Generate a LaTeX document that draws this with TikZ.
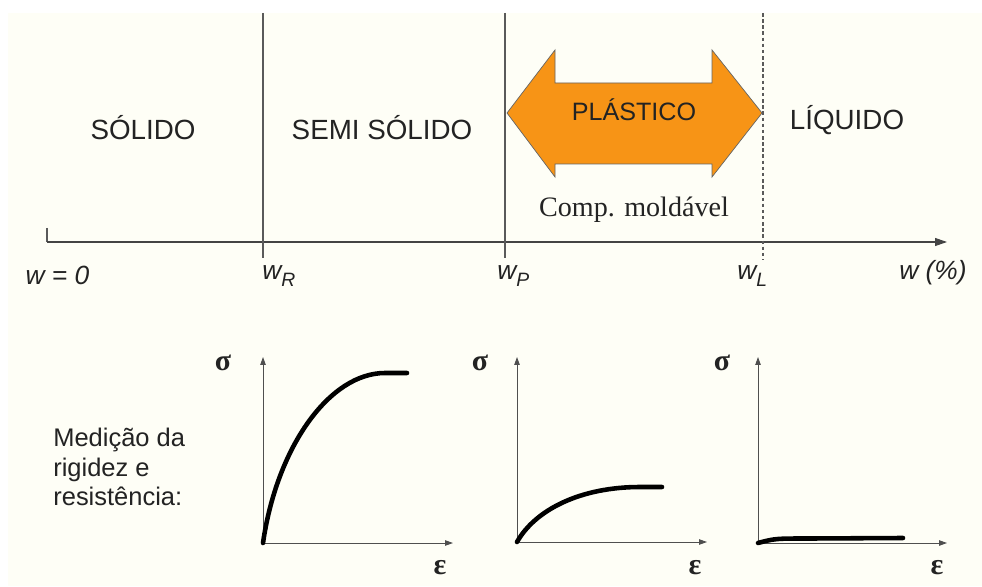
\documentclass[tikz,border=0pt]{standalone}
\usepackage{fontspec}
\setmainfont{Liberation Sans}
\newfontfamily\timesfont{Liberation Serif}
\usetikzlibrary{arrows.meta}
\definecolor{paper}{RGB}{254,254,246}
\definecolor{plastic}{RGB}{247,148,22}
\definecolor{ink}{RGB}{35,35,35}

\begin{document}
\begin{tikzpicture}[
  font=\fontsize{15.8}{19}\selectfont, text=ink,
  region/.style={inner sep=0pt},
  wlbl/.style={font=\fontsize{15}{18}\selectfont\itshape, inner sep=0pt},
  greek/.style={font=\fontsize{17}{20}\selectfont\timesfont\bfseries, inner sep=0pt},
  limit/.style={draw=ink!75, line width=0.6pt},
  axis/.style={draw=ink!85, line width=0.6pt, -{Triangle[length=2.4mm,width=1.6mm]}},
  gaxis/.style={draw=ink!80, line width=0.5pt, {Triangle[length=1.6mm,width=1.1mm]}-{Triangle[length=1.6mm,width=1.1mm]}},
  curve/.style={line width=2.6pt, line cap=round},
  blob/.style={fill=plastic, draw=ink!70, line width=0.4pt, line join=miter}
]
\useasboundingbox (0,0) rectangle (19.64,11.72);
\fill[paper] (0.16,0) rectangle (19.64,11.46);

\coordinate (a0) at (0.94,6.88);
\coordinate (a1) at (18.94,6.88);
\coordinate (tick) at (0.94,7.16);
\draw[limit] (tick) -- (a0);
\draw[axis] (a0) -- (a1);

\coordinate (rTop) at (5.26,11.46);
\coordinate (rBot) at (5.26,6.56);
\coordinate (pTop) at (10.10,11.46);
\coordinate (pBot) at (10.10,6.56);
\coordinate (lTop) at (15.26,11.46);
\coordinate (lBot) at (15.26,6.52);
\draw[limit] (rTop) -- (rBot);
\draw[limit] (pTop) -- (pBot);
\draw[limit, dash pattern=on 2pt off 1.5pt] (lTop) -- (lBot);

\node[wlbl] (w0) at (1.15,6.22) {w = 0};
\node[wlbl, anchor=west] (wR) at (5.24,6.2) {w\raisebox{-0.55ex}{\fontsize{11}{13}\selectfont R}};
\node[wlbl, anchor=west] (wP) at (9.94,6.2) {w\raisebox{-0.55ex}{\fontsize{11}{13}\selectfont P}};
\node[wlbl, anchor=west] (wL) at (14.74,6.2) {w\raisebox{-0.55ex}{\fontsize{11}{13}\selectfont L}};
\node[wlbl] (wpct) at (18.66,6.26) {w (\%)};

\node[region] (solido) at (2.86,9.16) {SÓLIDO};
\node[region] (semi) at (7.64,9.16) {SEMI SÓLIDO};
\node[region] (liquido) at (16.94,9.32) {LÍQUIDO};

\draw[blob] (10.14,9.46) -- (11.10,10.72) -- (11.10,10.06) -- (14.24,10.06)
  -- (14.24,10.72) -- (15.24,9.46) -- (14.24,8.18) -- (14.24,8.44)
  -- (11.10,8.44) -- (11.10,8.18) -- cycle;
\node[region, font=\fontsize{14.3}{17}\selectfont] (plastico) at (12.68,9.52) {PLÁSTICO};
\node[region, font=\fontsize{16}{19}\selectfont\timesfont] (moldavel) at (12.68,7.52) {Comp. moldável};

\node[anchor=west, align=left, inner sep=0pt, font=\fontsize{14.5}{16.7}\selectfont] (medicao) at (1.06,2.38) {Medição da\\rigidez e\\resistência:};

\coordinate (o1) at (5.26,0.86);
\coordinate (y1) at (5.26,4.58);
\coordinate (x1) at (9.06,0.86);
\draw[gaxis] (y1) -- (o1) -- (x1);
\node[greek] (s1) at (4.46,4.46) {σ};
\node[greek] (e1) at (8.80,0.36) {ε};
\coordinate (c1) at (8.14,4.26);
\draw[curve] (o1) .. controls (5.54,2.80) and (6.60,4.26) .. (7.70,4.26) -- (c1);

\coordinate (o2) at (10.34,0.88);
\coordinate (y2) at (10.34,4.58);
\coordinate (x2) at (14.14,0.88);
\draw[gaxis] (y2) -- (o2) -- (x2);
\node[greek] (s2) at (9.60,4.46) {σ};
\node[greek] (e2) at (13.90,0.36) {ε};
\coordinate (c2) at (13.24,1.98);
\draw[curve] (o2) .. controls (10.70,1.52) and (11.60,1.98) .. (12.80,1.98) -- (c2);

\coordinate (o3) at (15.16,0.86);
\coordinate (y3) at (15.16,4.58);
\coordinate (x3) at (18.94,0.86);
\draw[gaxis] (y3) -- (o3) -- (x3);
\node[greek] (s3) at (14.44,4.46) {σ};
\node[greek] (e3) at (18.74,0.36) {ε};
\coordinate (c3) at (18.06,0.96);
\draw[curve] (o3) .. controls (15.50,0.95) .. (16.20,0.95) -- (c3);
\end{tikzpicture}
\end{document}
